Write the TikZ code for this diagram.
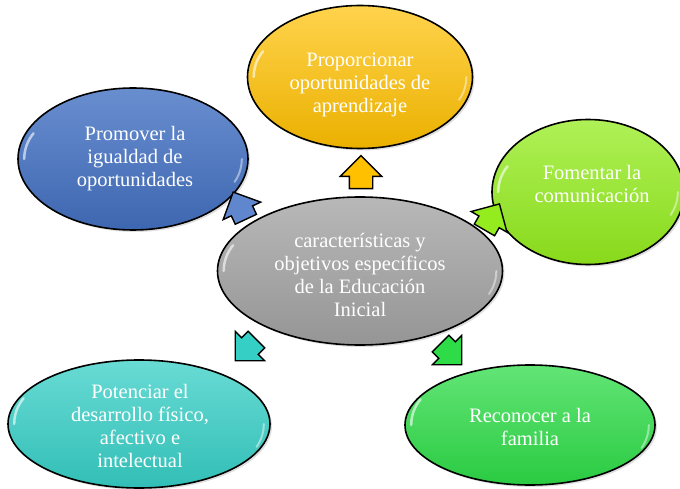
\documentclass[tikz,border=0pt]{standalone}
\usepackage{fontspec}
\setmainfont{Liberation Serif}
\usetikzlibrary{shapes.geometric,shapes.arrows,shadows}
\tikzset{
  bubble/.style={ellipse, draw=black, line width=1.6pt, inner sep=0pt,
    drop shadow={opacity=0.25, shadow xshift=2pt, shadow yshift=-2pt}},
  label text/.style={text=white, align=center, font=\fontsize{20.5}{23}\selectfont, inner sep=0pt},
  blockarrow/.style={single arrow, draw=black, line width=1.4pt,
    single arrow head extend=9pt, inner xsep=3pt, inner ysep=11pt, minimum height=33pt}
}
\definecolor{cgrey}{HTML}{A6A6A6}
\definecolor{corange}{HTML}{FFC000}
\definecolor{cblue}{HTML}{4472C4}
\definecolor{clime}{HTML}{94EC1E}
\definecolor{cteal}{HTML}{36CFC6}
\definecolor{cgreen}{HTML}{2EDC48}
\begin{document}
\begin{tikzpicture}[x=1pt,y=-1pt]
\useasboundingbox (0,0) rectangle (680,489);
\node[bubble, minimum width=285pt, minimum height=148pt,
  top color=cgrey!80!white, bottom color=cgrey!90!black] (c) at (360,271) {};
\node[bubble, minimum width=225pt, minimum height=143pt,
  top color=corange!70!white, bottom color=corange!92!black] (o) at (360,77) {};
\node[bubble, minimum width=230pt, minimum height=142pt,
  top color=cblue!80!white, bottom color=cblue!90!black] (b) at (133,159) {};
\node[bubble, minimum width=192pt, minimum height=145pt,
  top color=clime!75!white, bottom color=clime!92!black] (l) at (588,192) {};
\node[bubble, minimum width=262pt, minimum height=128pt,
  top color=cteal!75!white, bottom color=cteal!92!black] (t) at (139,424) {};
\node[bubble, minimum width=250pt, minimum height=120pt,
  top color=cgreen!75!white, bottom color=cgreen!92!black] (g) at (530,425) {};
% glossy highlights
\foreach \n in {c,o,b,l,t,g}{
  \draw[white, opacity=0.6, line width=2.5pt, line cap=round]
    ([shift={(7pt,0pt)}]\n.west) arc[start angle=180, end angle=140, x radius=40pt, y radius=40pt];
  \draw[white, opacity=0.45, line width=2pt, line cap=round]
    ([shift={(-7pt,0pt)}]\n.east) arc[start angle=0, end angle=-35, x radius=40pt, y radius=40pt];
}
% texts
\node[label text] (ct) at (360,275) {características y\\objetivos específicos\\de la Educación\\Inicial};
\node[label text] (ot) at (360,85) {Proporcionar\\oportunidades de\\aprendizaje};
\node[label text] (bt) at (135,159) {Promover la\\igualdad de\\oportunidades};
\node[label text] (lt) at (592,184) {Fomentar la\\comunicación};
\node[label text] (tt) at (140,426) {Potenciar el\\desarrollo físico,\\afectivo e\\intelectual};
\node[label text] (gt) at (530,427) {Reconocer a la\\familia};
% block arrows
\node[blockarrow, rotate=90, fill=corange] (ao) at (361,178) {};
\node[blockarrow, rotate=115, fill=cblue!85!white, minimum height=30pt] (ab) at (242,211) {};
\node[blockarrow, rotate=60, fill=clime, minimum height=30pt] (al) at (489,222) {};
\node[blockarrow, rotate=225, fill=cteal, minimum height=30pt] (at) at (250,346) {};
\node[blockarrow, rotate=-45, fill=cgreen, minimum height=30pt] (ag) at (447,350) {};
\end{tikzpicture}
\end{document}
